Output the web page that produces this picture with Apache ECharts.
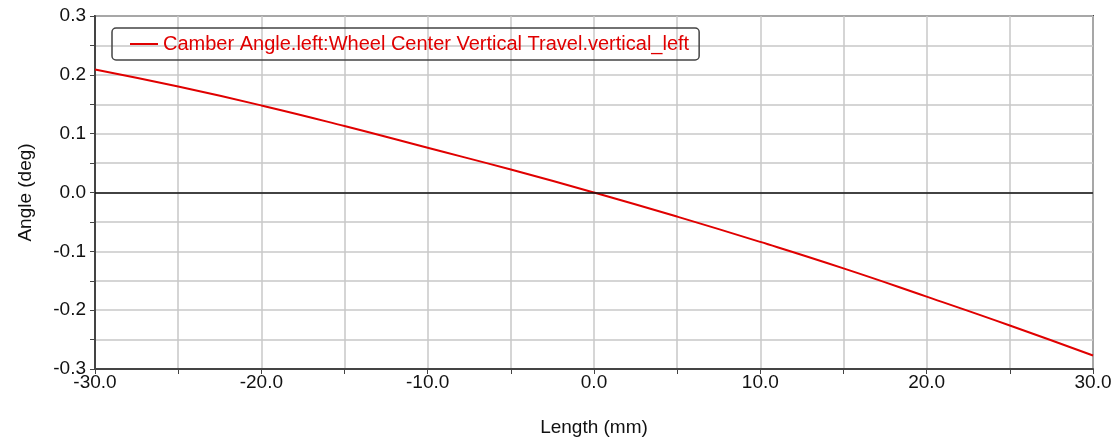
<!DOCTYPE html>
<html>
<head>
<meta charset="utf-8">
<script src="https://cdn.jsdelivr.net/npm/echarts@6/dist/echarts.min.js"></script>
<style>
html,body{margin:0;padding:0;background:#fff;}
#chart{width:1118px;height:440px;}
</style>
</head>
<body>
<div id="chart"></div>
<script>
const seriesName = 'Camber Angle.left:Wheel Center Vertical Travel.vertical_left';
const travelMm = [-30, -25, -20, -15, -10, -5, 0, 5, 10, 15, 20, 25, 30];
const camberDeg = [0.209, 0.180, 0.148, 0.113, 0.076, 0.039, 0.0, -0.041, -0.084, -0.129, -0.177, -0.226, -0.277];
const xAxisName = 'Length (mm)';
const yAxisName = 'Angle (deg)';

const font = 'Liberation Sans, Arial, sans-serif';
const chart = echarts.init(document.getElementById('chart'), null, {renderer: 'canvas'});
chart.setOption({
  animation: false,
  backgroundColor: '#ffffff',
  grid: {left: 95, right: 25, top: 16, bottom: 71, outerBoundsMode: 'none', containLabel: false,
         show: true, borderColor: '#444', borderWidth: 2, backgroundColor: 'transparent'},
  legend: {
    left: 112, top: 28,
    padding: [6, 10, 6, 18],
    borderColor: '#444', borderWidth: 1.5, borderRadius: 4,
    itemWidth: 28, itemHeight: 2, itemGap: 0,
    icon: 'rect',
    textStyle: {color: '#e00000', fontFamily: font, fontSize: 20},
    data: [seriesName]
  },
  xAxis: {
    type: 'value', min: -30, max: 30, interval: 10,
    name: xAxisName, nameLocation: 'middle', nameGap: 49,
    nameTextStyle: {color: '#111', fontFamily: font, fontSize: 19},
    axisLine: {onZero: false, lineStyle: {color: '#444', width: 2}},
    axisTick: {show: true, length: 5, lineStyle: {color: '#444'}},
    minorTick: {show: true, splitNumber: 2, length: 5, lineStyle: {color: '#444'}},
    splitLine: {show: true, lineStyle: {color: '#c8c8c8', width: 1.5}},
    minorSplitLine: {show: true, lineStyle: {color: '#c8c8c8', width: 1.5}},
    axisLabel: {color: '#111', fontFamily: font, fontSize: 19, margin: 4, formatter: v => v.toFixed(1)}
  },
  yAxis: {
    type: 'value', min: -0.3, max: 0.3, interval: 0.1,
    name: yAxisName, nameLocation: 'middle', nameGap: 60,
    nameTextStyle: {color: '#111', fontFamily: font, fontSize: 19},
    axisLine: {show: true, onZero: false, lineStyle: {color: '#444', width: 2}},
    axisTick: {show: true, length: 5, lineStyle: {color: '#444'}},
    minorTick: {show: true, splitNumber: 2, length: 5, lineStyle: {color: '#444'}},
    splitLine: {show: true, lineStyle: {color: '#c8c8c8', width: 1.5}},
    minorSplitLine: {show: true, lineStyle: {color: '#c8c8c8', width: 1.5}},
    axisLabel: {color: '#111', fontFamily: font, fontSize: 19, margin: 9, formatter: v => v.toFixed(1)}
  },
  series: [{
    name: seriesName,
    type: 'line',
    smooth: true,
    symbol: 'none',
    color: '#e00000',
    lineStyle: {color: '#e00000', width: 2},
    data: travelMm.map((x, i) => [x, camberDeg[i]]),
    markLine: {
      silent: true, symbol: 'none', label: {show: false},
      lineStyle: {color: '#111', width: 1.5, type: 'solid'},
      data: [{yAxis: 0}]
    }
  }]
});
</script>
</body>
</html>
